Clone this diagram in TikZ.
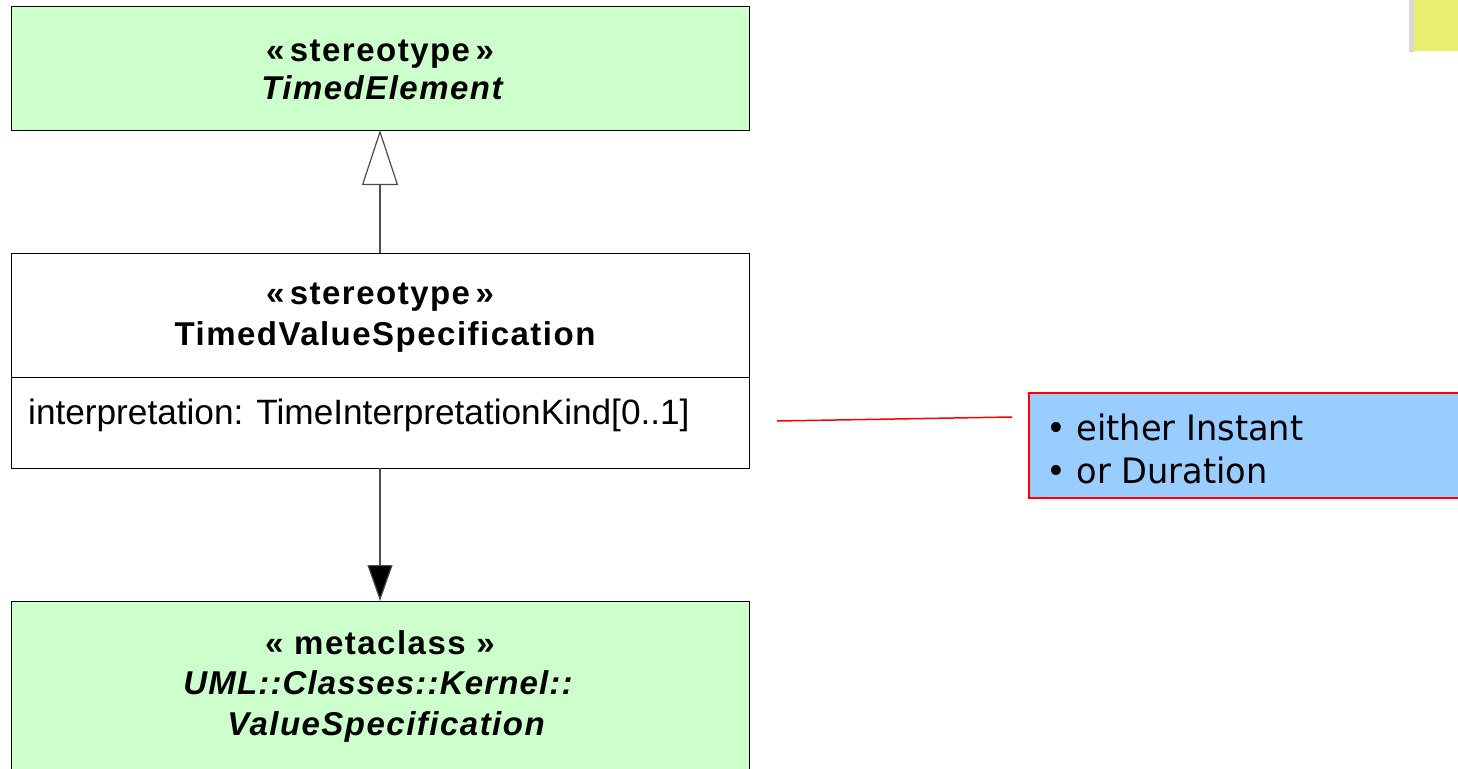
\documentclass[tikz,border=0pt]{standalone}
\usepackage{fontspec}
\setmainfont{Liberation Sans}
\newfontfamily\umlfont[LetterSpace=4.5]{Liberation Sans}
\newfontfamily\notefont[FakeStretch=0.96]{DejaVu Sans}
\usetikzlibrary{arrows.meta}
\definecolor{classgreen}{HTML}{CCFFCC}
\definecolor{noteblue}{HTML}{99CCFF}
\definecolor{stickyyellow}{HTML}{E8EE6E}
\tikzset{
  classbox/.style={draw=black, line width=1pt},
  umltext/.style={font=\umlfont\fontsize{33}{40}\selectfont\bfseries, anchor=base, inner sep=0pt},
  attrtext/.style={font=\fontsize{35.2}{40}\selectfont, anchor=base west, inner sep=0pt},
  notetext/.style={font=\notefont\fontsize{35}{44}\selectfont, anchor=base west, inner sep=0pt},
  conn/.style={draw=black!70, line width=1.2pt},
}
\begin{document}
\begin{tikzpicture}[x=1pt, y=-1pt]
\useasboundingbox (0,0) rectangle (1458,768);
\begin{scope}
\clip (0,0) rectangle (1458,768);
% sticky note corner
\fill[black!15] (1409,-2) rectangle (1414,52);
\fill[stickyyellow] (1414,-2) rectangle (1462,51);

% classes
\filldraw[classbox, fill=classgreen] (11,7) rectangle (749,130);
\filldraw[classbox, fill=white] (11,253) rectangle (749,468);
\draw[line width=1pt] (11,377) -- (749,377);
\filldraw[classbox, fill=classgreen] (11,601) rectangle (749,790);

\coordinate (teTop) at (380,130);
\coordinate (tvsTop) at (380,253);
\coordinate (tvsBot) at (380,468);
\coordinate (vsTop) at (380,601);

\node[umltext] (te1) at (380,62) {«\,stereotype\,»};
\node[umltext] (te2) at (382,99) {\itshape TimedElement};
\node[umltext] (tvs1) at (380,304) {«\,stereotype\,»};
\node[umltext] (tvs2) at (385,345) {TimedValueSpecification};
\node[attrtext] (attr) at (28,424) {interpretation: TimeInterpretationKind[0..1]};
\node[umltext] (vs1) at (380,654) {« metaclass »};
\node[umltext] (vs2) at (378,694) {\itshape\addfontfeature{LetterSpace=3.5}UML::Classes::Kernel::};
\node[umltext] (vs3) at (386,735) {\itshape ValueSpecification};

% generalization
\draw[conn, -{Triangle[open, length=55pt, width=36pt, line width=1.2pt, fill=white]}] (tvsTop) -- (teTop);
% association
\draw[conn, -{Triangle[length=36pt, width=25pt, fill=black]}] (tvsBot) -- (vsTop);

% note
\filldraw[draw=red, line width=1.5pt, fill=noteblue] (1029,393) rectangle (1475,498);
\node[notetext] (n1) at (1046,440) {• either Instant};
\node[notetext] (n2) at (1046,483) {• or Duration};
\coordinate (lineA) at (777,421);
\coordinate (lineB) at (1012,417);
\draw[red, line width=1.5pt] (lineA) -- (lineB);
\end{scope}
\end{tikzpicture}
\end{document}
